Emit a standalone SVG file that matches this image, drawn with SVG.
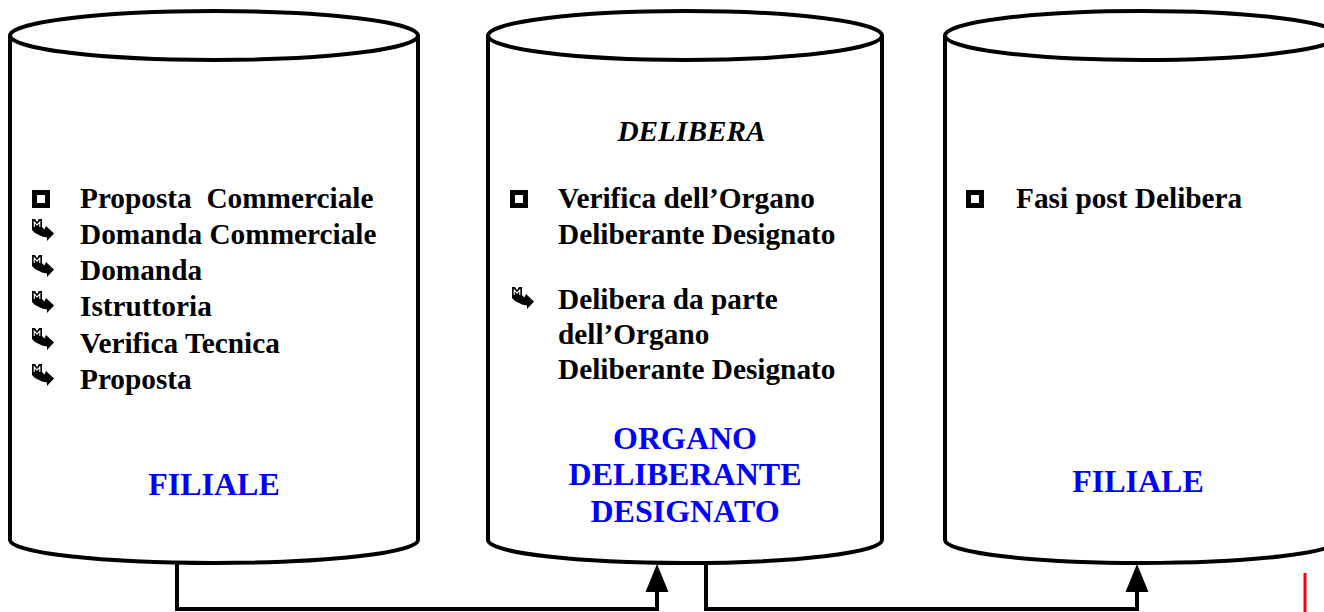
<svg xmlns="http://www.w3.org/2000/svg" width="1324" height="612" viewBox="0 0 1324 612">
<defs>
<style>
.cyl{fill:#fff;stroke:#000;stroke-width:4}
.t{font-family:"Liberation Serif","Times New Roman",serif;font-weight:bold;font-size:29.3px;fill:#000}
.ti{font-style:italic}
.blue{font-family:"Liberation Serif","Times New Roman",serif;font-weight:bold;font-size:32px;fill:#0000FF;text-anchor:middle}
.sq{fill:none;stroke:#000;stroke-width:5}
.conn{fill:none;stroke:#000;stroke-width:4}
</style>
<g id="arr">
<path d="M0,0 L3,0 L5,3 L7,0 L10,0 L10,8 L12.5,10.5 L14,7 L22,14.5 L15,22 L15,18.5 L10,17.5 L3,14 L0,11 Z" fill="#000"/>
<polyline points="2.2,8 2.2,3 5,6.2 7.8,3 7.8,8" fill="none" stroke="#fff" stroke-width="1.1"/>
</g>
</defs>
<rect width="1324" height="612" fill="#fff"/>
<g id="connectors">
<path class="conn" d="M177,563 V609 H657 V590"/>
<path d="M657,564 L668.5,592 L645.5,592 Z" fill="#000"/>
<path class="conn" d="M706,563 V609 H1137 V590"/>
<path d="M1137,564 L1148.5,592 L1125.5,592 Z" fill="#000"/>
</g>
<g id="filiale1">
<path class="cyl" d="M10,35 V540 A204,23 0 0 0 418,540 V35"/>
<ellipse class="cyl" cx="214" cy="35.5" rx="204" ry="24.5"/>
<rect class="sq" x="34.5" y="192.5" width="13" height="13"/>
<text class="t" x="80" y="208" xml:space="preserve">Proposta  Commerciale</text>
<use href="#arr" x="32" y="219"/>
<text class="t" x="80" y="244">Domanda Commerciale</text>
<use href="#arr" x="32" y="255"/>
<text class="t" x="80" y="280">Domanda</text>
<use href="#arr" x="32" y="291"/>
<text class="t" x="80" y="316">Istruttoria</text>
<use href="#arr" x="32" y="328"/>
<text class="t" x="80" y="353">Verifica Tecnica</text>
<use href="#arr" x="32" y="364"/>
<text class="t" x="80" y="389">Proposta</text>
<text class="blue" x="214" y="495">FILIALE</text>
</g>
<g id="organo">
<path class="cyl" d="M488,35 V540 A197,23 0 0 0 882,540 V35"/>
<ellipse class="cyl" cx="685" cy="35.5" rx="197" ry="24.5"/>
<text class="t ti" x="691.5" y="141" text-anchor="middle">DELIBERA</text>
<rect class="sq" x="512.5" y="192.5" width="13" height="13"/>
<text class="t" x="558" y="208">Verifica dell’Organo</text>
<text class="t" x="558" y="244">Deliberante Designato</text>
<use href="#arr" x="512" y="287"/>
<text class="t" x="558" y="309">Delibera da parte</text>
<text class="t" x="558" y="344">dell’Organo</text>
<text class="t" x="558" y="379">Deliberante Designato</text>
<text class="blue" x="685" y="449">ORGANO</text>
<text class="blue" x="685" y="485">DELIBERANTE</text>
<text class="blue" x="685" y="522">DESIGNATO</text>
</g>
<g id="filiale2">
<path class="cyl" d="M945,35 V540 A197,23 0 0 0 1339,540 V35"/>
<ellipse class="cyl" cx="1142" cy="35.5" rx="197" ry="24.5"/>
<rect class="sq" x="968.5" y="192.5" width="13" height="13"/>
<text class="t" x="1016" y="208">Fasi post Delibera</text>
<text class="blue" x="1138" y="492">FILIALE</text>
</g>
<line x1="1305" y1="573" x2="1305" y2="612" stroke="#FF0000" stroke-width="3"/>
</svg>
